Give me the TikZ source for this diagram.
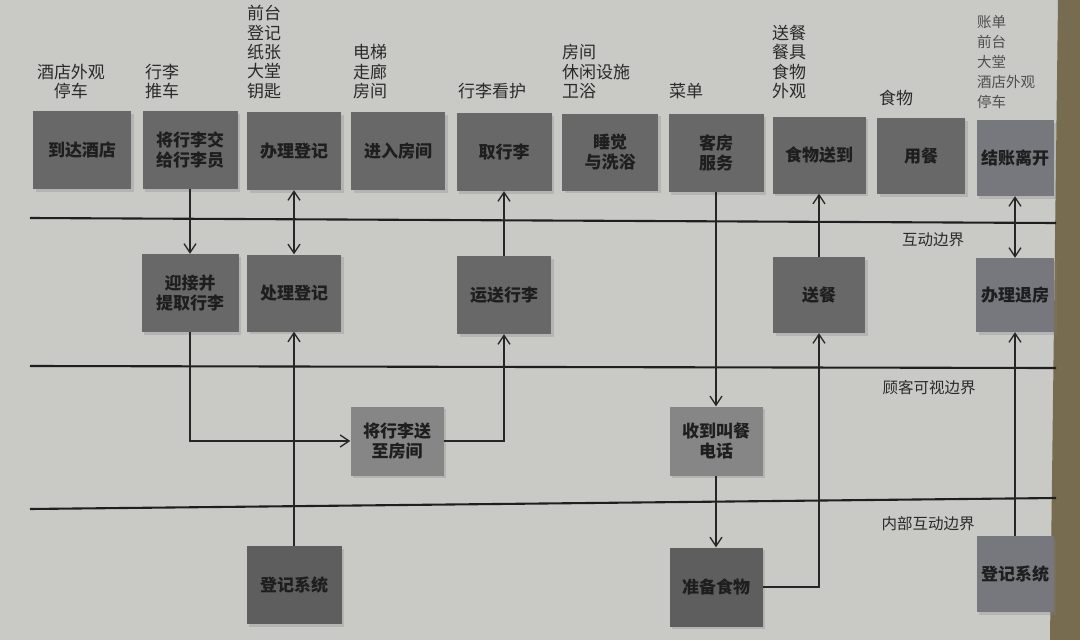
\documentclass[tikz,border=0pt]{standalone}
\usepackage{fontspec}
\newfontfamily\cjk{Noto Sans CJK SC}
\usetikzlibrary{arrows.meta,shadows}
\definecolor{pagebg}{HTML}{C9C9C6}
\definecolor{edgestrip}{HTML}{776B50}
\definecolor{boxdark}{HTML}{686868}
\definecolor{boxdeep}{HTML}{5E5E5E}
\definecolor{boxlight}{HTML}{868686}
\definecolor{boxblue}{HTML}{77787E}
\definecolor{inkdark}{HTML}{1E1E1E}
\definecolor{inklabel}{HTML}{2A2A2A}
\definecolor{inkfaint}{HTML}{4E4E4E}
\begin{document}
\begin{tikzpicture}[x=1pt,y=-1pt,
  box/.style={draw=none, fill=#1, inner sep=0pt, align=center,
    font=\cjk\bfseries\fontsize{17}{19.5}\selectfont, text=inkdark,
    drop shadow={shadow xshift=2.5pt,shadow yshift=-2.5pt,opacity=0.28}},
  box/.default=boxdark,
  sz/.style 2 args={minimum width=#1pt, minimum height=#2pt},
  lbl/.style={anchor=south west, align=left, inner sep=0pt,
    font=\cjk\fontsize{17}{19.4}\selectfont, text=inklabel},
  lblsmall/.style={anchor=south west, align=left, inner sep=0pt,
    font=\cjk\fontsize{14.5}{20}\selectfont, text=inkfaint},
  blbl/.style={inner sep=0pt, font=\cjk\fontsize{15.5}{18}\selectfont, text=inklabel},
  bound/.style={line width=2.1pt, draw=black!88},
  conn/.style={line width=1.5pt, draw=black!85,
    -{Straight Barb[length=9pt,width=12pt,line width=1.3pt]}},
  conntwo/.style={line width=1.5pt, draw=black!85,
    {Straight Barb[length=9pt,width=12pt,line width=1.3pt]}-{Straight Barb[length=9pt,width=12pt,line width=1.3pt]}}
]
\useasboundingbox (0,0) rectangle (1080,640);
\fill[pagebg] (0,0) rectangle (1080,640);
\fill[edgestrip] (1058,0) -- (1080,0) -- (1080,640) -- (1050,640) -- cycle;

% boundary lines
\coordinate (i1) at (30,218);  \coordinate (i2) at (1056,223);
\coordinate (v1) at (30,366);  \coordinate (v2) at (1056,368);
\coordinate (n1) at (30,509);  \coordinate (n2) at (1056,498);
\draw[bound] (i1) -- (i2);
\draw[bound] (v1) -- (v2);
\draw[bound] (n1) -- (n2);
\node[blbl] (tI) at (933,240) {互动边界};
\node[blbl] (tV) at (929,388) {顾客可视边界};
\node[blbl] (tN) at (928,524) {内部互动边界};

% top row: customer actions
\node[box, sz={98}{78}] (a1) at (82,150) {到达酒店};
\node[box, sz={95}{78}] (a2) at (190,150) {将行李交\\给行李员};
\node[box, sz={94}{78}] (a3) at (294,151) {办理登记};
\node[box, sz={94}{78}] (a4) at (398,151) {进入房间};
\node[box, sz={95}{78}] (a5) at (504,152) {取行李};
\node[box, sz={96}{77}] (a6) at (610,152) {睡觉\\与洗浴};
\node[box, sz={95}{78}] (a7) at (716,153) {客房\\服务};
\node[box, sz={93}{77}] (a8) at (819,155) {食物送到};
\node[box, sz={88}{76}] (a9) at (921,156) {用餐};
\node[box=boxblue, sz={77}{76}] (a10) at (1015,158) {结账离开};

% physical evidence labels
\node[lbl, anchor=south, align=center] (e1) at (71,99) {酒店外观\\停车};
\node[lbl] (e2) at (145,99) {行李\\推车};
\node[lbl] (e3) at (247,99) {前台\\登记\\纸张\\大堂\\钥匙};
\node[lbl] (e4) at (353,99) {电梯\\走廊\\房间};
\node[lbl] (e5) at (458,99) {行李看护};
\node[lbl] (e6) at (562,99) {房间\\休闲设施\\卫浴};
\node[lbl] (e7) at (669,99) {菜单};
\node[lbl] (e8) at (772,99) {送餐\\餐具\\食物\\外观};
\node[lbl] (e9) at (879,106) {食物};
\node[lblsmall] (e10) at (977,109) {账单\\前台\\大堂\\酒店外观\\停车};

% onstage
\node[box, sz={97}{78}] (b1) at (190,293) {迎接并\\提取行李};
\node[box, sz={94}{77}] (b2) at (294,293) {处理登记};
\node[box, sz={94}{78}] (b3) at (504,295) {运送行李};
\node[box, sz={92}{76}] (b4) at (819,295) {送餐};
\node[box=boxblue, sz={78}{74}] (b5) at (1015,295) {办理退房};

% backstage
\node[box=boxlight, sz={93}{69}] (c1) at (397,441) {将行李送\\至房间};
\node[box=boxlight, sz={93}{69}] (c2) at (716,441) {收到叫餐\\电话};

% support
\node[box=boxdeep, sz={95}{78}] (d1) at (294,585) {登记系统};
\node[box=boxdeep, sz={93}{79}] (d2) at (716,587) {准备食物};
\node[box=boxblue, sz={77}{76}] (d3) at (1015,574) {登记系统};

% connectors
\draw[conn] (a2.south) -- (b1.north);
\draw[conntwo] (a3.south) -- (b2.north);
\draw[conn] (b3.north) -- (a5.south);
\draw[conn] (b1.south) |- (c1.west);
\draw[conn] (c1.east) -| (b3.south);
\draw[conn] (d1.north) -- (b2.south);
\draw[conn] (a7.south) -- (c2.north);
\draw[conn] (c2.south) -- (d2.north);
\draw[conn] (d2.east) -| (b4.south);
\draw[conn] (b4.north) -- (a8.south);
\draw[conntwo] (a10.south) -- (b5.north);
\draw[conn] (d3.north) -- (b5.south);
\end{tikzpicture}
\end{document}
